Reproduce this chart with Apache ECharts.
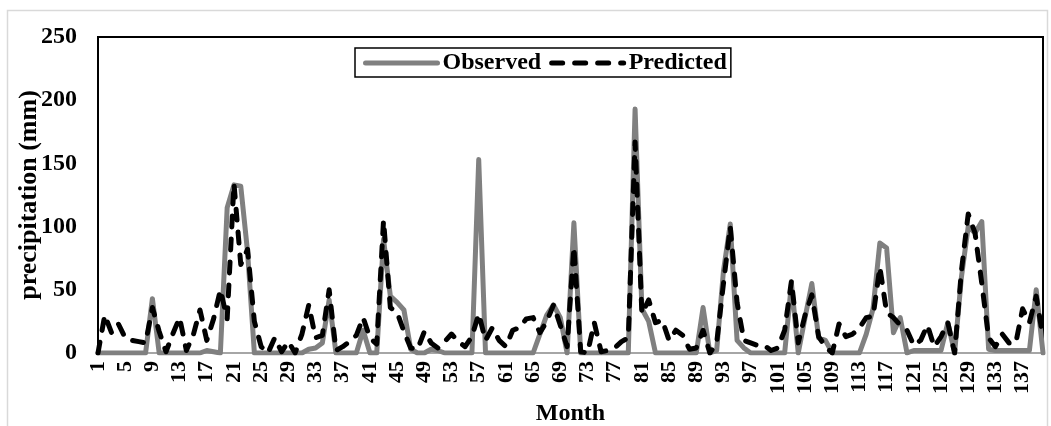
<!DOCTYPE html>
<html>
<head>
<meta charset="utf-8">
<title>Observed vs Predicted precipitation</title>
<script src="https://cdn.jsdelivr.net/npm/echarts@6/dist/echarts.min.js"></script>
<style>
  html, body { margin: 0; padding: 0; background: #fff; }
  #chart { width: 1051px; height: 426px; }
</style>
</head>
<body>
<div id="chart"></div>
<script>
// 월 1..140
const months = Array.from({ length: 140 }, (_, i) => String(i + 1));

// 관측 강수량 (mm)
const observed = [
  0, 0, 0, 0, 0, 0, 0, 0, 43, 0,
  0, 0, 0, 0, 0, 0, 2, 1, 0, 115,
  133, 132, 80, 0, 0, 0, 0, 0, 0, 0,
  0, 3, 4, 8, 42, 0, 0, 0, 0, 18,
  0, 0, 90, 45, 40, 34, 3, 0, 0, 3,
  2, 0, 0, 0, 0, 0, 153, 0, 0, 0,
  0, 0, 0, 0, 0, 15, 30, 38, 28, 0,
  103, 0, 0, 0, 0, 0, 0, 0, 0, 193,
  35, 25, 0, 0, 0, 0, 0, 0, 0, 36,
  0, 2, 65, 102, 10, 4, 0, 0, 0, 0,
  0, 0, 55, 0, 28, 55, 12, 10, 0, 0,
  0, 0, 0, 15, 35, 87, 83, 16, 28, 0,
  2, 2, 2, 2, 2, 24, 0, 60, 100, 95,
  104, 3, 2, 2, 2, 2, 2, 2, 50, 0
];

// 예측 강수량 (mm)
const predicted = [
  0, 30, 16, 23, 12, 10, 9, 8, 36, 17,
  1, 15, 28, 2, 14, 34, 10, 27, 50, 27,
  134, 70, 82, 25, 5, 0, 12, 1, 9, 0,
  15, 38, 12, 14, 50, 2, 5, 9, 14, 28,
  12, 7, 105, 36, 32, 17, 4, 3, 17, 8,
  4, 9, 15, 9, 5, 13, 31, 10, 20, 10,
  5, 18, 20, 27, 28, 16, 25, 38, 22, 5,
  84, 1, 0, 24, 1, 2, 4, 9, 12, 167,
  31, 42, 24, 26, 10, 18, 14, 3, 4, 18,
  0, 8, 55, 100, 40, 10, 8, 6, 6, 2,
  4, 18, 57, 8, 30, 46, 13, 5, 0, 23,
  13, 15, 20, 28, 29, 68, 32, 28, 22, 18,
  6, 10, 22, 5, 13, 24, 0, 65, 110, 95,
  55, 12, 5, 15, 8, 8, 35, 24, 45, 12
];

const FONT = "'Liberation Serif', 'Times New Roman', serif";

const chart = echarts.init(document.getElementById("chart"), null, { renderer: "canvas" });
chart.setOption({
  backgroundColor: "#fff",
  animation: false,
  graphic: [{
    type: "rect",
    shape: { x: 7.5, y: 10.5, width: 1040, height: 430 },
    style: { fill: "none", stroke: "#d9d9d9", lineWidth: 1.5 },
    z: -10
  }],
  grid: {
    left: 98, right: 8, top: 37, bottom: 73,
    outerBoundsMode: "none",
    containLabel: false,
    show: true, borderColor: "#000", borderWidth: 2, backgroundColor: "transparent"
  },
  legend: {
    left: 355, top: 48,
    backgroundColor: "#fff",
    borderColor: "#000", borderWidth: 1.5,
    padding: [3, 4, 2, 8],
    itemWidth: 72, itemHeight: 14, itemGap: 8,
    itemStyle: { opacity: 0 },
    lineStyle: { width: 5, cap: "round" },
    textStyle: { fontFamily: FONT, fontWeight: "bold", fontSize: 24, color: "#000", padding: [0, 4, 0, 0] },
    data: ["Observed", "Predicted"]
  },
  xAxis: {
    type: "category",
    data: months,
    boundaryGap: false,
    name: "Month",
    nameLocation: "middle",
    nameGap: 47,
    nameTextStyle: { fontFamily: FONT, fontWeight: "bold", fontSize: 24, color: "#000" },
    axisLine: { show: true, lineStyle: { color: "#a6a6a6", width: 2 } },
    axisTick: { show: false },
    axisLabel: {
      interval: 3, rotate: 90, margin: 8,
      fontFamily: FONT, fontWeight: "bold", fontSize: 22, color: "#000"
    },
    splitLine: { show: false }
  },
  yAxis: {
    type: "value",
    min: 0, max: 250, interval: 50,
    name: "precipitation (mm)",
    nameLocation: "middle",
    nameGap: 56,
    nameMoveOverlap: false,
    nameTextStyle: { fontFamily: FONT, fontWeight: "bold", fontSize: 26, color: "#000" },
    axisLine: { show: false },
    axisTick: { show: false },
    axisLabel: { margin: 21, fontFamily: FONT, fontWeight: "bold", fontSize: 24, color: "#000" },
    splitLine: { show: false }
  },
  series: [
    {
      name: "Observed",
      type: "line",
      data: observed,
      symbol: "none",
      lineStyle: { color: "#808080", width: 5, join: "round", cap: "round" },
      itemStyle: { color: "#808080" },
      z: 2
    },
    {
      name: "Predicted",
      type: "line",
      data: predicted,
      symbol: "none",
      lineStyle: { color: "#000", width: 5, type: [11, 12], cap: "round", join: "round" },
      itemStyle: { color: "#000" },
      z: 3
    }
  ]
});
</script>
</body>
</html>
